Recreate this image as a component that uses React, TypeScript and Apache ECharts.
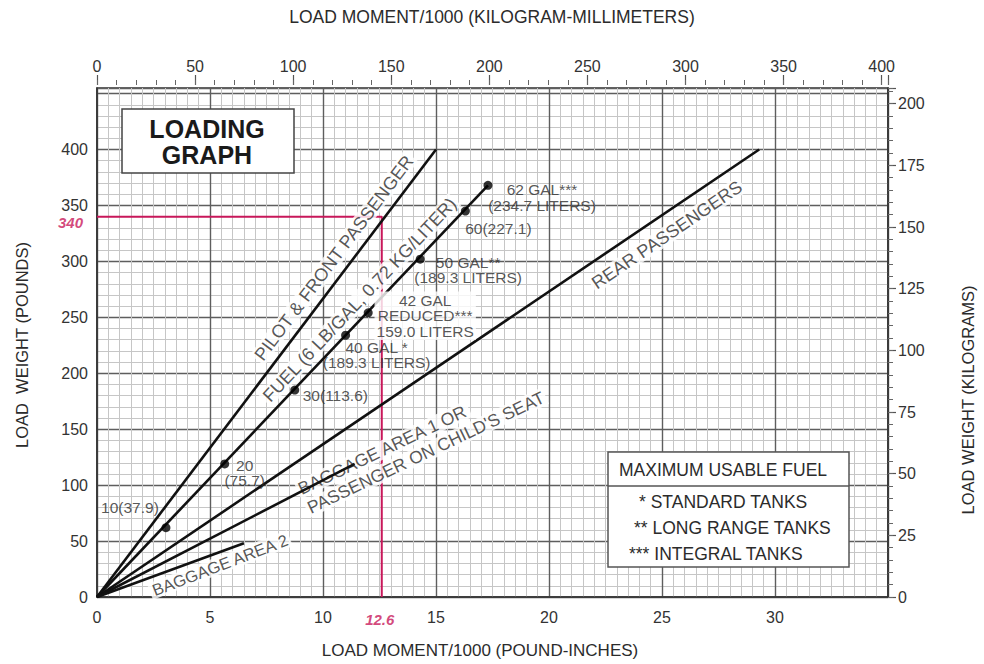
import React, { useEffect, useRef } from "react";
import * as echarts from "echarts";

// ---------------- data ----------------
const momentTicks = [0, 5, 10, 15, 20, 25, 30];
const poundTicks = [0, 50, 100, 150, 200, 250, 300, 350, 400];
const kgmmTicks = [0, 50, 100, 150, 200, 250, 300, 350, 400];
const kgTicks = [0, 25, 50, 75, 100, 125, 150, 175, 200];

const MOMENT_MAX = 35; // pound-inches / 1000
const POUND_MAX = 455; // pounds
const LBIN_TO_KGMM = 11.521;
const LB_TO_KG = 0.45359;

const lineNames = [
  "PILOT & FRONT PASSENGER",
  "FUEL (6 LB/GAL, 0.72 KG/LITER)",
  "REAR PASSENGERS",
  "BAGGAGE AREA 1 OR\nPASSENGER ON CHILD'S SEAT",
  "BAGGAGE AREA 2",
];
const lineEndMoment = [15.0, 17.3, 29.3, 11.4, 6.5];
const lineEndWeight = [400, 368, 400, 119, 48];

const fuelMoment = [3.05, 5.65, 8.75, 11.0, 12.0, 14.3, 16.3, 17.3];
const fuelWeight = [62, 119, 185, 234, 254, 302, 345, 368];
const fuelLabels = [
  "10(37.9)",
  "20\n(75.7)",
  "30(113.6)",
  "40 GAL *\n(189.3 LITERS)",
  "42 GAL\nREDUCED***\n159.0 LITERS",
  "50 GAL**\n(189.3 LITERS)",
  "60(227.1)",
  "62 GAL***\n(234.7 LITERS)",
];

const exampleWeight = 340;
const exampleMoment = 12.6;

const graphTitle = "LOADING\nGRAPH";
const legendTitle = "MAXIMUM USABLE FUEL";
const legendItems = ["* STANDARD TANKS", "** LONG RANGE TANKS", "*** INTEGRAL TANKS"];
const titleTop = "LOAD MOMENT/1000 (KILOGRAM-MILLIMETERS)";
const titleBottom = "LOAD MOMENT/1000 (POUND-INCHES)";
const titleLeft = "LOAD  WEIGHT (POUNDS)";
const titleRight = "LOAD WEIGHT (KILOGRAMS)";

// ---------------- layout / style ----------------
const FONT = "'Liberation Sans', Arial, Helvetica, sans-serif";
const RED = "#c8175a";
const INK = "#2b2b2b";
const GRID = { left: 97, top: 88, width: 791, height: 509 };

// label anchors (data coordinates) for each text line of the weight-line labels
const lineLabelLayout = [
  { at: [[10.49, 303]], rotate: 53, size: 18, align: "center" },
  { at: [[11.62, 265.6]], rotate: 46.6, size: 18, align: "center" },
  { at: [[25.22, 323.6]], rotate: 34.2, size: 18, align: "center" },
  { at: [[8.87, 95.2], [9.27, 78.2]], rotate: 25.5, size: 17.5, align: "left" },
  { at: [[5.44, 28.6]], rotate: 21, size: 16.5, align: "center" },
];

const fuelLabelLayout = [
  { align: "center", offset: [-36, -20], bg: false },
  { align: "center", offset: [20, 9], bg: false },
  { align: "left", offset: [8, 5], bg: false },
  { align: "center", offset: [31, 20], bg: false },
  { align: "center", offset: [57, 3], bg: true },
  { align: "center", offset: [48, 11], bg: false },
  { align: "center", offset: [33, 17], bg: false },
  { align: "center", offset: [54, 12], bg: false },
];

const fmt = (ticks: number[]) => (v: number) => (ticks.indexOf(Math.round(v * 1000) / 1000) >= 0 ? String(v) : "");

const centeredText = (text: string, x: number, y: number, size: number, extra: any = {}) => ({
  type: "text",
  z: 11,
  x,
  y,
  ...extra,
  style: {
    text,
    fill: INK,
    fontSize: size,
    fontFamily: FONT,
    align: "center",
    verticalAlign: "middle",
    textAlign: "center",
    textVerticalAlign: "middle",
  },
});

export default function App() {
  const ref = useRef<HTMLDivElement>(null);

  useEffect(() => {
    if (!ref.current) return;
    const chart = echarts.init(ref.current, undefined, { renderer: "svg", width: 984, height: 664 });

    const axisLabelStyle = { color: "#333", fontSize: 16, fontFamily: FONT };
    const majorSplit = { show: true, lineStyle: { color: "#5e5e5e", width: 1.4 } };
    const minorSplit = { show: true, lineStyle: { color: "#c6c6c6", width: 1 } };
    const frameLine = { show: true, onZero: false, lineStyle: { color: "#333", width: 1.6 } };

    const weightLines = lineNames.map((name, i) => ({
      type: "line",
      name,
      data: [
        [0, 0],
        [lineEndMoment[i], lineEndWeight[i]],
      ],
      symbol: "none",
      lineStyle: { color: "#111", width: 2.6 },
      z: 4,
      silent: true,
      xAxisIndex: 0,
      yAxisIndex: 0,
    }));

    const lineLabelItems: any[] = [];
    lineNames.forEach((name, i) => {
      const lay = lineLabelLayout[i];
      name.split("\n").forEach((part, j) => {
        lineLabelItems.push({
          name: part,
          value: lay.at[j],
          label: {
            show: true,
            position: "inside",
            formatter: "{b}",
            rotate: lay.rotate,
            fontSize: lay.size,
            fontFamily: FONT,
            color: INK,
            align: lay.align,
            verticalAlign: "middle",
            backgroundColor: "#fff",
            padding: [0, 2],
          },
        });
      });
    });

    const option: any = {
      animation: false,
      backgroundColor: "#fff",
      textStyle: { fontFamily: FONT },
      grid: {
        ...GRID,
        containLabel: false,
        outerBoundsMode: "none",
        show: true,
        backgroundColor: "#fff",
        borderColor: "#333",
        borderWidth: 1.5,
      },
      xAxis: [
        {
          type: "value",
          position: "bottom",
          min: 0,
          max: MOMENT_MAX,
          interval: 5,
          axisLine: frameLine,
          axisTick: { show: false },
          axisLabel: { ...axisLabelStyle, margin: 12, formatter: fmt(momentTicks) },
          splitLine: majorSplit,
          minorTick: { show: false, splitNumber: 10 },
          minorSplitLine: minorSplit,
          z: 1,
        },
        {
          type: "value",
          position: "top",
          offset: 3,
          min: 0,
          max: MOMENT_MAX * LBIN_TO_KGMM,
          interval: 50,
          axisLine: { show: false, onZero: false },
          axisTick: { show: true, length: 10, lineStyle: { color: "#555", width: 1.2 } },
          axisLabel: { ...axisLabelStyle, margin: 11, formatter: fmt(kgmmTicks) },
          splitLine: { show: false },
          z: 1,
        },
        {
          type: "value",
          position: "top",
          offset: 3,
          min: 0,
          max: MOMENT_MAX * LBIN_TO_KGMM,
          interval: 10,
          axisLine: { show: false, onZero: false },
          axisTick: { show: true, length: 5, lineStyle: { color: "#666", width: 1 } },
          axisLabel: { show: false },
          splitLine: { show: false },
          z: 1,
        },
      ],
      yAxis: [
        {
          type: "value",
          position: "left",
          min: 0,
          max: POUND_MAX,
          interval: 50,
          axisLine: frameLine,
          axisTick: { show: false },
          axisLabel: { ...axisLabelStyle, margin: 9, formatter: fmt(poundTicks) },
          splitLine: majorSplit,
          z: 1,
        },
        {
          type: "value",
          position: "right",
          min: 0,
          max: POUND_MAX * LB_TO_KG,
          interval: 25,
          axisLine: frameLine,
          axisTick: { show: true, length: 8, lineStyle: { color: "#555", width: 1.2 } },
          axisLabel: { ...axisLabelStyle, margin: 10, formatter: fmt(kgTicks) },
          splitLine: { show: false },
          z: 1,
        },
        {
          type: "value",
          position: "right",
          min: 0,
          max: POUND_MAX * LB_TO_KG,
          interval: 5,
          axisLine: { show: false, onZero: false },
          axisTick: { show: true, length: 5, lineStyle: { color: "#666", width: 1 } },
          axisLabel: { show: false },
          splitLine: { show: false },
          z: 1,
        },
        {
          type: "value",
          position: "left",
          min: 0,
          max: POUND_MAX,
          interval: 10,
          axisLine: { show: false, onZero: false },
          axisTick: { show: false },
          axisLabel: { show: false },
          splitLine: minorSplit,
          z: 0,
        },
      ],
      series: [
        {
          type: "line",
          name: "example",
          data: [
            [0, exampleWeight],
            [exampleMoment, exampleWeight],
            [exampleMoment, 0],
          ],
          symbol: "none",
          lineStyle: { color: RED, width: 2 },
          z: 2,
          silent: true,
        },
        {
          type: "scatter",
          name: "lineLabels",
          symbolSize: 1,
          itemStyle: { color: "rgba(0,0,0,0)" },
          silent: true,
          z: 3,
          data: lineLabelItems,
        },
        ...weightLines,
        {
          type: "scatter",
          name: "fuelPoints",
          symbol: "circle",
          symbolSize: 9,
          itemStyle: { color: "#000" },
          silent: true,
          z: 5,
          data: fuelMoment.map((m, i) => ({
            name: fuelLabels[i],
            value: [m, fuelWeight[i]],
            label: {
              show: true,
              position: "inside",
              formatter: "{b}",
              align: fuelLabelLayout[i].align,
              verticalAlign: "middle",
              offset: fuelLabelLayout[i].offset,
              fontSize: 15.5,
              lineHeight: 15.5,
              fontFamily: FONT,
              color: INK,
              backgroundColor: fuelLabelLayout[i].bg ? "#fff" : "transparent",
              padding: fuelLabelLayout[i].bg ? [1, 2] : 0,
            },
          })),
        },
        {
          type: "scatter",
          name: "exampleLabels",
          symbolSize: 1,
          itemStyle: { color: "rgba(0,0,0,0)" },
          silent: true,
          z: 6,
          data: [
            {
              name: String(exampleWeight),
              value: [0, exampleWeight],
              label: { align: "right", offset: [-14, 6] },
            },
            {
              name: String(exampleMoment),
              value: [exampleMoment, 0],
              label: { align: "center", offset: [-2, 22] },
            },
          ],
          label: {
            show: true,
            position: "inside",
            formatter: "{b}",
            verticalAlign: "middle",
            color: RED,
            fontSize: 15,
            fontStyle: "italic",
            fontWeight: "bold",
            fontFamily: FONT,
          },
          clip: false,
        },
      ],
      graphic: {
        elements: [
          {
            type: "rect",
            z: 10,
            shape: { x: 122, y: 109, width: 172, height: 64 },
            style: { fill: "#fff", stroke: "#444", lineWidth: 1.5 },
          },
          {
            type: "text",
            z: 11,
            x: 207,
            y: 129,
            style: {
              text: graphTitle.split("\n")[0],
              fill: "#1a1a1a",
              fontSize: 25,
              fontWeight: "bold",
              fontFamily: FONT,
              align: "center",
              verticalAlign: "middle",
              textAlign: "center",
              textVerticalAlign: "middle",
            },
          },
          {
            type: "text",
            z: 11,
            x: 207,
            y: 155,
            style: {
              text: graphTitle.split("\n")[1],
              fill: "#1a1a1a",
              fontSize: 25,
              fontWeight: "bold",
              fontFamily: FONT,
              align: "center",
              verticalAlign: "middle",
              textAlign: "center",
              textVerticalAlign: "middle",
            },
          },
          {
            type: "rect",
            z: 10,
            shape: { x: 608, y: 452, width: 241, height: 115 },
            style: { fill: "#fff", stroke: "#555", lineWidth: 1.5 },
          },
          {
            type: "line",
            z: 11,
            shape: { x1: 608, y1: 486, x2: 849, y2: 486 },
            style: { stroke: "#555", lineWidth: 1.3 },
          },
          centeredText(legendTitle, 723, 470, 17.5),
          ...legendItems.map((t, i) => ({
            type: "text",
            z: 11,
            x: 639 - i * 5,
            y: 502 + i * 26,
            style: {
              text: t,
              fill: INK,
              fontSize: 17.5,
              fontFamily: FONT,
              align: "left",
              verticalAlign: "middle",
              textAlign: "left",
              textVerticalAlign: "middle",
            },
          })),
          centeredText(titleTop, 492, 17, 17.5),
          centeredText(titleBottom, 480, 650, 17),
          centeredText(titleLeft, 22, 345, 16.5, { rotation: Math.PI / 2 }),
          centeredText(titleRight, 968, 400, 16.5, { rotation: Math.PI / 2 }),
        ],
      },
    };

    chart.setOption(option);
    return () => chart.dispose();
  }, []);

  return (
    <div
      ref={ref}
      style={{ position: "fixed", left: 0, top: 0, width: 984, height: 664, background: "#fff" }}
    />
  );
}
